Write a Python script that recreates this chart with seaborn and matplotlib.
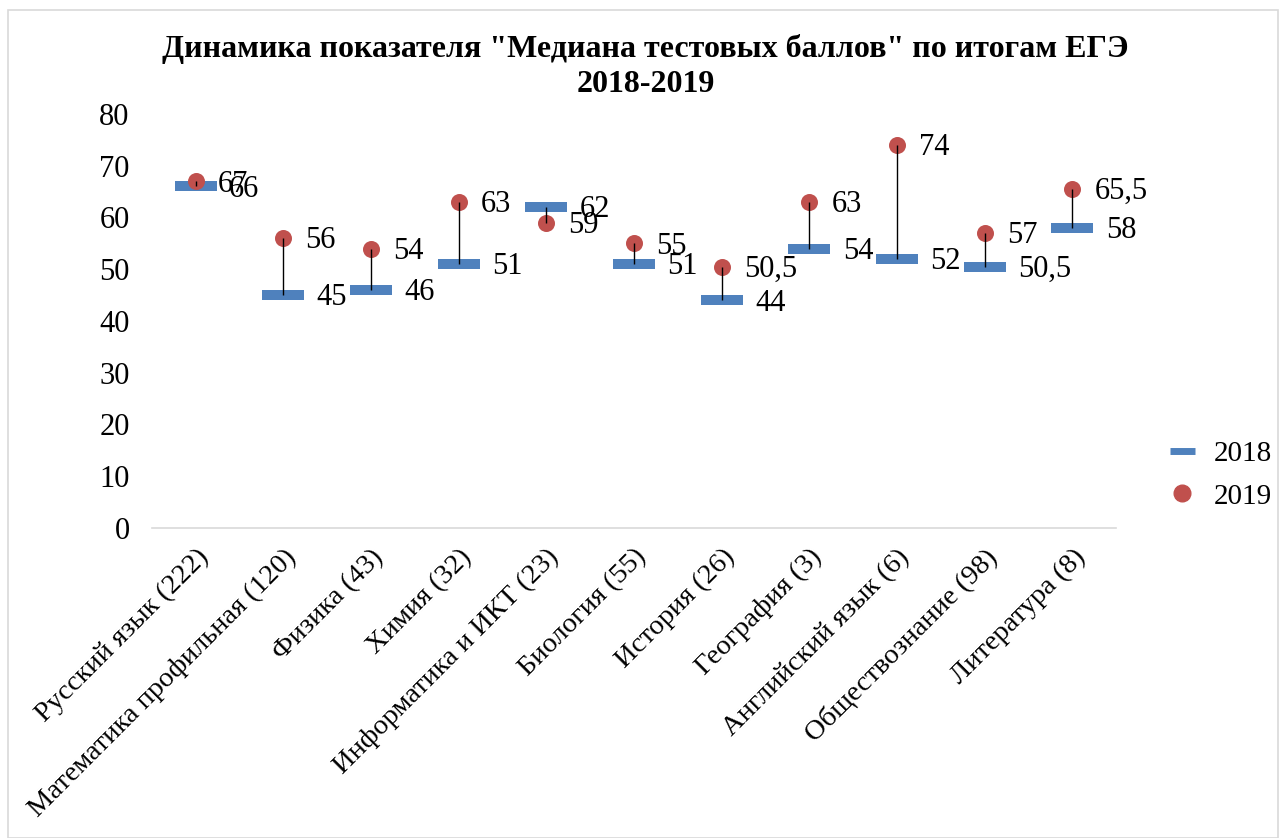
import matplotlib
matplotlib.use("Agg")
import matplotlib.pyplot as plt
from matplotlib.lines import Line2D
from matplotlib.patches import Rectangle
from matplotlib.path import Path
import pandas as pd
import seaborn as sns

# данные
subjects = ["Русский язык (222)", "Математика профильная (120)", "Физика (43)",
            "Химия (32)", "Информатика и ИКТ (23)", "Биология (55)",
            "История (26)", "География (3)", "Английский язык (6)",
            "Обществознание (98)", "Литература (8)"]
median_2018 = [66, 45, 46, 51, 62, 51, 44, 54, 52, 50.5, 58]
median_2019 = [67, 56, 54, 63, 59, 55, 50.5, 63, 74, 57, 65.5]
y_ticks = [0, 10, 20, 30, 40, 50, 60, 70, 80]

BLUE = "#4F81BD"
RED = "#C0504D"

sns.set_style("white")
plt.rcParams['font.family'] = ['Liberation Serif', 'DejaVu Serif']
plt.rcParams['text.color'] = 'black'
plt.rcParams['xtick.color'] = 'black'
plt.rcParams['ytick.color'] = 'black'

df = pd.DataFrame({"subject": subjects, "y2018": median_2018, "y2019": median_2019})

fig = plt.figure(figsize=(12.86, 8.38), dpi=100)
ax = fig.add_axes([0.118, 0.370, 0.750, 0.494])

# рамка диаграммы
fig.patches.append(Rectangle((0.006, 0.0), 0.988, 0.988, transform=fig.transFigure,
                             fill=False, edgecolor="#D9D9D9", linewidth=1.2))

# маркер-полоска для 2018
bar_marker = Path([(-1, -0.24), (1, -0.24), (1, 0.24), (-1, 0.24), (-1, -0.24)],
                  [Path.MOVETO, Path.LINETO, Path.LINETO, Path.LINETO, Path.CLOSEPOLY])

sns.scatterplot(data=df, x="subject", y="y2018", marker=bar_marker, s=915,
                color=BLUE, linewidth=0, ax=ax, zorder=3)
sns.scatterplot(data=df, x="subject", y="y2019", marker="o", s=150,
                color=RED, linewidth=0, ax=ax, zorder=4)

# линии от 2018 к 2019
xs = range(len(subjects))
ax.vlines(list(xs), df["y2018"], df["y2019"], color="black", linewidth=1, zorder=5)


def fmt(v):
    return (f"{v:g}").replace(".", ",")


for i, (a, b) in enumerate(zip(median_2018, median_2019)):
    ax.annotate(fmt(a), (i, a), xytext=(24, -2), textcoords="offset points",
                ha="left", va="center", fontsize=22)
    ax.annotate(fmt(b), (i, b), xytext=(16, -2), textcoords="offset points",
                ha="left", va="center", fontsize=22)

ax.set_xlim(-0.5, len(subjects) - 0.5)
ax.set_ylim(0, 80)
ax.set_yticks(y_ticks)
ax.set_xlabel("")
ax.set_ylabel("")
ax.tick_params(axis="y", length=0, pad=16, labelsize=22)
ax.tick_params(axis="x", length=0, pad=12, labelsize=20.5)
plt.setp(ax.get_xticklabels(), rotation=45, ha="right", rotation_mode="anchor")

for side in ["left", "right", "top"]:
    ax.spines[side].set_visible(False)
ax.spines["bottom"].set_color("#D9D9D9")
ax.spines["bottom"].set_linewidth(1.2)

fig.text(0.502, 0.942, 'Динамика показателя "Медиана тестовых баллов" по итогам ЕГЭ',
         ha="center", va="center", fontsize=23, fontweight="bold")
fig.text(0.502, 0.899, "2018-2019", ha="center", va="center", fontsize=23, fontweight="bold")

handles = [Line2D([], [], color=BLUE, marker="_", markersize=18, markeredgewidth=5,
                  linestyle="none"),
           Line2D([], [], color=RED, marker="o", markersize=12, linestyle="none")]
fig.legend(handles, ["2018", "2019"], loc="center left", bbox_to_anchor=(0.887, 0.433),
           frameon=False, fontsize=21, handlelength=1.0, handletextpad=0.6,
           labelspacing=0.55)

fig.savefig("out.png", dpi=100)
